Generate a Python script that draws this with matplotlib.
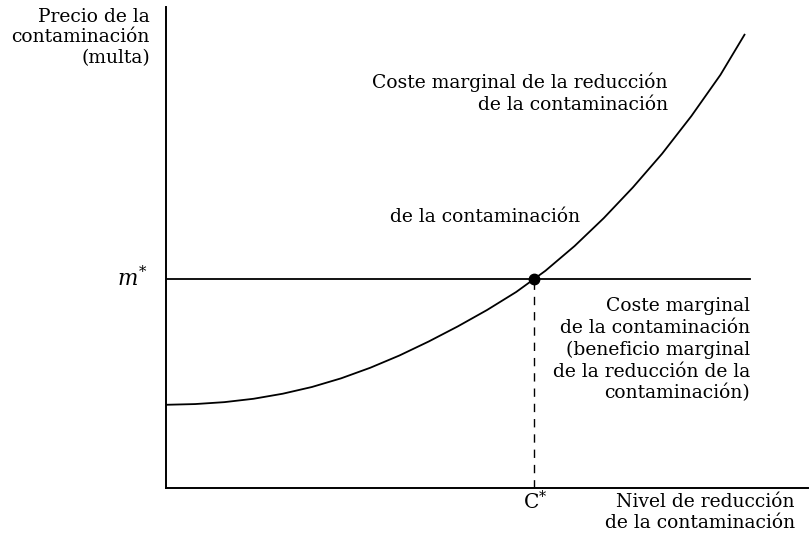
import matplotlib
matplotlib.use("Agg")
import matplotlib.pyplot as plt

# Data (abstract units)
curve_x = [0, 0.5, 1, 1.5, 2, 2.5, 3, 3.5, 4, 4.5, 5, 5.5, 6, 6.5, 7, 7.5, 8, 8.5, 9, 9.5, 9.92]
curve_y = [1.73, 1.745, 1.785, 1.855, 1.96, 2.10, 2.28, 2.50, 2.755, 3.045, 3.36, 3.70, 4.075,
           4.515, 5.03, 5.61, 6.25, 6.95, 7.73, 8.59, 9.44]
m_star = 4.35
c_star = 6.31
hline_end = 10.0

W, H = 811, 539
plt.rcParams['font.family'] = ['DejaVu Serif']
plt.rcParams['mathtext.fontset'] = 'dejavuserif'

fig = plt.figure(figsize=(W / 100, H / 100), dpi=100)
L, R, B, T = 166, 808, 488, 7
ax = fig.add_axes([L / W, 1 - B / H, (R - L) / W, (B - T) / H])
ax.set_xlim(0, 11)
ax.set_ylim(0, 10)
for s in ['top', 'right']:
    ax.spines[s].set_visible(False)
for s in ['left', 'bottom']:
    ax.spines[s].set_linewidth(1.4)
ax.set_xticks([])
ax.set_yticks([])

ax.plot(curve_x, curve_y, color='black', lw=1.3, solid_capstyle='butt',
        solid_joinstyle='round')
ax.plot([0, hline_end], [m_star, m_star], color='black', lw=1.3)
ax.plot([c_star, c_star], [0, m_star], color='black', lw=1.0, linestyle=(0, (6, 5)))
ax.plot([c_star], [m_star], 'o', color='black', markersize=7.5, zorder=5)

fs = 13.5

def t(x, y, s, ha='left', size=fs, **kw):
    fig.text(x / W, 1 - y / H, s, ha=ha, va='center', fontsize=size, **kw)

t(150, 17, 'Precio de la', 'right')
t(150, 37, 'contaminación', 'right')
t(150, 58, '(multa)', 'right')

t(668, 82, 'Coste marginal de la reducción', 'right')
t(668, 105, 'de la contaminación', 'right')

t(390, 217, 'de la contaminación', 'left')

t(148, 279, r'$m^{*}$', 'right', size=15.5)

t(750, 306, 'Coste marginal', 'right')
t(750, 328, 'de la contaminación', 'right')
t(750, 350, '(beneficio marginal', 'right')
t(750, 372, 'de la reducción de la', 'right')
t(750, 393, 'contaminación)', 'right')

t(535, 502, r'$\mathrm{C}^{*}$', 'center', size=14.5)
t(795, 502, 'Nivel de reducción', 'right')
t(795, 523, 'de la contaminación', 'right')

fig.savefig('out.png', dpi=100)
